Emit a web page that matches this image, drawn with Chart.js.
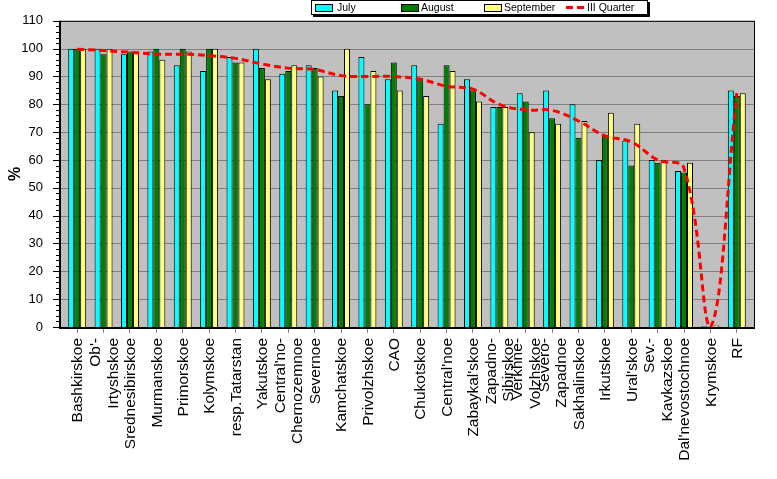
<!DOCTYPE html>
<html>
<head>
<meta charset="utf-8">
<script src="https://cdn.jsdelivr.net/npm/chart.js@4.4.0/dist/chart.umd.min.js"></script>
<style>
    body { margin: 0; background: #fff; }
    #wrap { position: relative; width: 777px; height: 479px; }
    #legend {
        position: absolute; left: 311px; top: 0; width: 335px; height: 13px;
        background: #fff; border: 1px solid #000; box-shadow: 2px 2px 0 #000;
        font: 10.5px "Liberation Sans", Arial, sans-serif; color: #000;
    }
    #legend span { position: absolute; top: 0; line-height: 13px; }
    #legend i { position: absolute; top: 3px; width: 16px; height: 6px; border: 1px solid #000; }
    #legend b { position: absolute; top: 5px; width: 7px; height: 3px; background: #f00; }
</style>
</head>
<body>
<div id="wrap">
    <canvas id="chart" width="777" height="479"></canvas>
    <div id="legend">
        <i style="left:3px;background:#00ffff"></i><span style="left:25px">July</span>
        <i style="left:89px;background:#008000"></i><span style="left:109px">August</span>
        <i style="left:172px;background:#ffff80"></i><span style="left:192px">September</span>
        <b style="left:254px"></b><b style="left:265px"></b><span style="left:275px">III Quarter</span>
    </div>
</div>
<script>
// --- Data ---
const regions = [
    'Bashkirskoe', ["Ob'-", 'Irtyshskoe'], 'Srednesibirskoe', 'Murmanskoe', 'Primorskoe',
    'Kolymskoe', 'resp.Tatarstan', 'Yakutskoe', ["Central'no-", 'Chernozemnoe'], 'Severnoe',
    'Kamchatskoe', 'Privolzhskoe', 'CAO', 'Chukotskoe', "Central'noe",
    "Zabaykal'skoe", ['Zapadno-', 'Sibirskoe'], ['Verkhne-', 'Volzhskoe'], ['Severo-', 'Zapadnoe'], 'Sakhalinskoe',
    'Irkutskoe', "Ural'skoe", ['Sev.-', 'Kavkazskoe'], "Dal'nevostochnoe", 'Krymskoe', 'RF'
];
const july      = [100, 100, 98, 99, 94, 92, 97, 100, 91, 94, 85, 97, 89, 94, 73, 89, 79, 84, 85, 80, 60, 67, 60, 56, 0.4, 85];
const august    = [100, 98, 99, 100, 100, 100, 95, 93, 92, 93, 83, 80, 95, 89, 94, 85, 79, 81, 75, 68, 69, 58, 59, 55.5, 0, 83];
const september = [100, 100, 99, 96, 99, 100, 95, 89, 94, 90, 100, 92, 85, 83, 92, 81, 79, 70, 73, 74, 77, 73, 60, 59, 0.5, 84];
const quarter   = [99.8, 99.3, 98.7, 98, 98, 97.5, 96.5, 94.5, 93, 92.5, 90.3, 90, 90, 89, 86.5, 85.4, 80, 78, 77.8, 74, 68.7, 66.5, 60, 57, 0, 84];
const yTicks = [0, 10, 20, 30, 40, 50, 60, 70, 80, 90, 100, 110];

const labelFont = '15.5px "Liberation Sans", Arial, sans-serif';
const labelLine = 17.5;

// plot frame, grid, y tick marks and x labels drawn around the chart area
const framePlugin = {
    id: 'frame',
    beforeDatasetsDraw(chart) {
        const { ctx, chartArea, scales } = chart;
        const left = chartArea.left - 4, right = chartArea.right + 4;
        const top = chartArea.top, bottom = chartArea.bottom;
        ctx.save();
        ctx.fillStyle = '#c0c0c0';
        ctx.fillRect(left, top, right - left, bottom - top);
        ctx.strokeStyle = '#808080';
        ctx.lineWidth = 1;
        yTicks.forEach(v => {
            const y = Math.round(scales.y.getPixelForValue(v)) + 0.5;
            ctx.beginPath(); ctx.moveTo(left, y); ctx.lineTo(right, y); ctx.stroke();
        });
        ctx.restore();
    },
    afterDatasetsDraw(chart) {
        const { ctx, chartArea, scales } = chart;
        const left = chartArea.left - 4, right = chartArea.right + 4;
        const top = chartArea.top, bottom = chartArea.bottom;
        ctx.save();
        ctx.strokeStyle = '#000';
        ctx.lineWidth = 1;
        ctx.strokeRect(left + 0.5, top + 0.5, right - left, bottom - top);
        ctx.lineWidth = 2;
        ctx.beginPath();
        ctx.moveTo(left, top); ctx.lineTo(left, bottom + 1); ctx.lineTo(right + 1, bottom + 1);
        ctx.stroke();
        // y ticks: major every 10, minor every 2
        ctx.lineWidth = 1;
        for (let v = 0; v <= 110; v += 2) {
            const y = Math.round(scales.y.getPixelForValue(v)) + 0.5;
            const len = v % 10 === 0 ? 7 : 4;
            ctx.beginPath(); ctx.moveTo(left - len, y); ctx.lineTo(left, y); ctx.stroke();
        }
        // x labels, rotated, lines centred on the tick
        ctx.fillStyle = '#000';
        ctx.font = labelFont;
        ctx.textAlign = 'right';
        ctx.textBaseline = 'middle';
        regions.forEach((lab, i) => {
            const lines = Array.isArray(lab) ? lab : [lab];
            const cx = scales.x.getPixelForValue(i);
            lines.forEach((txt, j) => {
                const x = cx + 1 + (j - (lines.length - 1) / 2) * labelLine;
                ctx.save();
                ctx.translate(x, bottom + 11);
                ctx.rotate(-Math.PI / 2);
                ctx.fillText(txt, 0, 0);
                ctx.restore();
            });
        });
        ctx.restore();
    }
};

const ctx = document.getElementById('chart').getContext('2d');
new Chart(ctx, {
    type: 'bar',
    data: {
        labels: regions,
        datasets: [
            { label: 'July', data: july, backgroundColor: '#00ffff', borderColor: '#000', borderWidth: 1, order: 1 },
            { label: 'August', data: august, backgroundColor: '#008000', borderColor: '#000', borderWidth: 1, order: 1 },
            { label: 'September', data: september, backgroundColor: '#ffff80', borderColor: '#000', borderWidth: 1, order: 1 },
            {
                type: 'line', label: 'III Quarter', data: quarter,
                borderColor: '#ff0000', borderWidth: 3, borderDash: [7, 4],
                pointRadius: 0, tension: 0.4, fill: false, order: 0
            }
        ]
    },
    options: {
        responsive: false,
        animation: false,
        layout: { padding: { top: 19, right: 27, left: 0, bottom: 0 } },
        datasets: { bar: { categoryPercentage: 0.68, barPercentage: 1.0 } },
        plugins: { legend: { display: false }, tooltip: { enabled: false } },
        scales: {
            x: {
                afterFit: s => { s.height = 152; },
                grid: { offset: false, drawOnChartArea: false, tickLength: 6, tickColor: '#808080' },
                border: { display: false },
                ticks: { display: false, autoSkip: false }
            },
            y: {
                min: 0, max: 110,
                afterFit: s => { s.width = 64; },
                grid: { display: false },
                border: { display: false },
                ticks: {
                    stepSize: 10, padding: 13, color: '#000',
                    font: { family: '"Liberation Sans", Arial', size: 13 }
                },
                title: {
                    display: true, text: '%', color: '#000', padding: { top: 6 },
                    font: { family: '"Liberation Sans", Arial', size: 16, weight: 'bold' }
                }
            }
        }
    },
    plugins: [framePlugin]
});
</script>
</body>
</html>
